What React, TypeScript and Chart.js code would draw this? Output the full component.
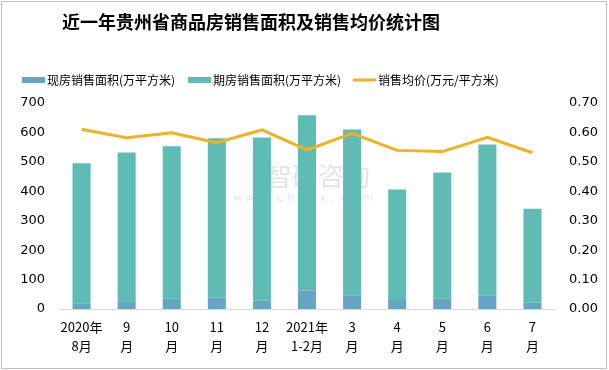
import React, { useEffect, useRef } from 'react';
import { Chart, registerables } from 'chart.js';
Chart.register(...registerables);

const categories: string[][] = [
  ['2020年', '8月'], ['9', '月'], ['10', '月'], ['11', '月'], ['12', '月'],
  ['2021年', '1-2月'], ['3', '月'], ['4', '月'], ['5', '月'], ['6', '月'], ['7', '月'],
];
const existingArea = [18, 25, 35, 38, 28, 62, 45, 31, 35, 45, 21];
const futuresArea = [477, 507, 518, 542, 555, 596, 565, 375, 429, 514, 320];
const avgPrice = [0.611, 0.582, 0.599, 0.565, 0.609, 0.541, 0.597, 0.539, 0.535, 0.583, 0.531];
const seriesNames = ['现房销售面积(万平方米)', '期房销售面积(万平方米)', '销售均价(万元/平方米)'];
const titleText = '近一年贵州省商品房销售面积及销售均价统计图';

const BLUE = '#66A3C5';
const TEAL = '#5EBCB5';
const GOLD = '#F3B11C';
const CJK = '"Noto Sans CJK SC", "DejaVu Sans", sans-serif';

const overlay = {
  id: 'overlay',
  beforeDraw(chart: any) {
    const ctx = chart.ctx;
    ctx.save();
    // watermark
    ctx.fillStyle = 'rgba(170,178,190,0.35)';
    ctx.font = `26px ${CJK}`;
    ctx.textBaseline = 'middle';
    ctx.textAlign = 'left';
    ctx.fillText('智研咨询', 266, 176);
    ctx.font = `11px "DejaVu Sans", sans-serif`;
    const w = 'www.chyxx.com'.split('');
    w.forEach((c, i) => ctx.fillText(c, 234 + i * 10.7, 198));
    ctx.restore();
  },
  afterDraw(chart: any) {
    const ctx = chart.ctx;
    ctx.save();
    ctx.fillStyle = '#000';
    ctx.textBaseline = 'middle';
    ctx.textAlign = 'left';
    ctx.font = `bold 18px ${CJK}`;
    ctx.fillText(titleText, 62, 22);
    ctx.font = `12px ${CJK}`;
    const ly = 80;
    ctx.fillStyle = BLUE;
    ctx.fillRect(22, 77, 23, 6);
    ctx.fillStyle = TEAL;
    ctx.fillRect(188, 77, 23, 6);
    ctx.strokeStyle = GOLD;
    ctx.lineWidth = 3;
    ctx.beginPath();
    ctx.moveTo(353, ly);
    ctx.lineTo(376, ly);
    ctx.stroke();
    ctx.fillStyle = '#000';
    ctx.fillText(seriesNames[0], 47, ly);
    ctx.fillText(seriesNames[1], 213, ly);
    ctx.fillText(seriesNames[2], 378, ly);
    ctx.restore();
  },
};

export default function App() {
  const ref = useRef<HTMLCanvasElement>(null);
  useEffect(() => {
    if (!ref.current) return;
    const chart = new Chart(ref.current, {
      type: 'bar',
      data: {
        labels: categories as any,
        datasets: [
          {
            type: 'line',
            label: seriesNames[2],
            data: avgPrice,
            borderColor: GOLD,
            backgroundColor: GOLD,
            borderWidth: 3,
            pointRadius: 0,
            tension: 0,
            yAxisID: 'y1',
            order: 0,
          } as any,
          {
            label: seriesNames[0],
            data: existingArea,
            backgroundColor: BLUE,
            yAxisID: 'y',
            stack: 's',
            order: 1,
            barPercentage: 0.4,
            categoryPercentage: 1,
          },
          {
            label: seriesNames[1],
            data: futuresArea,
            backgroundColor: TEAL,
            yAxisID: 'y',
            stack: 's',
            order: 1,
            barPercentage: 0.4,
            categoryPercentage: 1,
          },
        ],
      },
      options: {
        responsive: false,
        animation: false,
        layout: { padding: { top: 103, left: 0, right: 4, bottom: 0 } },
        plugins: { legend: { display: false }, title: { display: false }, tooltip: { enabled: false } },
        scales: {
          x: {
            stacked: true,
            grid: { display: false, drawTicks: false },
            border: { display: true, color: '#D9D9D9', width: 1 },
            ticks: {
              color: '#000',
              font: { family: CJK, size: 13, lineHeight: 1.45 },
              padding: 9,
              maxRotation: 0,
              autoSkip: false,
            },
            afterFit: (s: any) => { s.height = 61; },
          },
          y: {
            position: 'left',
            stacked: true,
            min: 0,
            max: 700,
            grid: { display: false, drawTicks: false },
            border: { display: false },
            ticks: {
              stepSize: 100,
              color: '#000',
              font: { family: '"DejaVu Sans", sans-serif', size: 13 },
              padding: 14,
            },
            afterFit: (s: any) => { s.width = 59; },
          },
          y1: {
            position: 'right',
            min: 0,
            max: 0.7,
            grid: { display: false, drawTicks: false },
            border: { display: false },
            ticks: {
              stepSize: 0.1,
              color: '#000',
              font: { family: '"DejaVu Sans", sans-serif', size: 13 },
              padding: 14,
              callback: (v: any) => Number(v).toFixed(2),
            },
            afterFit: (s: any) => { s.width = 50; },
          },
        },
      },
      plugins: [overlay],
    });
    return () => chart.destroy();
  }, []);
  return (
    <div style={{ position: 'absolute', left: 0, top: 0, width: 609, height: 370, background: '#fff' }}>
      <canvas ref={ref} width={609} height={370} style={{ display: 'block' }} />
      <div style={{ position: 'absolute', left: 1, top: 1, width: 604, height: 366, border: '1px solid #BDBDBD', pointerEvents: 'none' }} />
    </div>
  );
}
